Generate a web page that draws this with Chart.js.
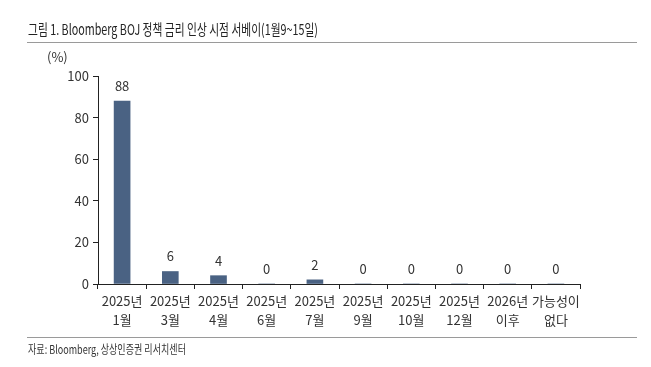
<!DOCTYPE html>
<html>
<head>
<meta charset="utf-8">
<script src="https://cdn.jsdelivr.net/npm/chart.js@4.4.1/dist/chart.umd.min.js"></script>
<style>
  html, body { margin: 0; padding: 0; background: #fff; }
  #wrap { width: 651px; height: 367px; position: relative; }
</style>
</head>
<body>
<div id="wrap"><canvas id="c" width="651" height="367"></canvas></div>
<script>
const categories = [
  ['2025년', '1월'], ['2025년', '3월'], ['2025년', '4월'], ['2025년', '6월'],
  ['2025년', '7월'], ['2025년', '9월'], ['2025년', '10월'], ['2025년', '12월'],
  ['2026년', '이후'], ['가능성이', '없다']
];
const shares = [88, 6, 4, 0, 2, 0, 0, 0, 0, 0];
const yTicks = [0, 20, 40, 60, 80, 100];

const titleText = '그림 1. Bloomberg BOJ 정책 금리 인상 시점 서베이(1월9~15일)';
const sourceText = '자료: Bloomberg, 상상인증권 리서치센터';
const unitText = '(%)';

const korFont = '"Noto Sans CJK KR", "Noto Sans", sans-serif';

// squeeze text horizontally to fit a target width (the original uses a narrow gothic)
function drawSqueezed(ctx, text, x, y, targetW) {
  const w = ctx.measureText(text).width;
  const s = Math.min(1, targetW / w);
  ctx.save();
  ctx.translate(x, y);
  ctx.scale(s, 1);
  ctx.fillText(text, 0, 0);
  ctx.restore();
}

const decor = {
  id: 'decor',
  afterDraw(chart) {
    const ctx = chart.ctx;
    ctx.save();
    ctx.fillStyle = '#222';
    ctx.textBaseline = 'middle';
    ctx.textAlign = 'left';
    ctx.font = '15px ' + korFont;
    drawSqueezed(ctx, titleText, 28, 29, 290);

    ctx.strokeStyle = '#9a9a9a';
    ctx.lineWidth = 1;
    ctx.beginPath();
    ctx.moveTo(27, 42.5); ctx.lineTo(637, 42.5);
    ctx.moveTo(27, 337.5); ctx.lineTo(637, 337.5);
    ctx.stroke();

    ctx.fillStyle = '#333';
    ctx.font = '12px ' + korFont;
    drawSqueezed(ctx, sourceText, 28, 349, 158);

    ctx.font = '13px ' + korFont;
    ctx.fillText(unitText, 47, 57);

    // value labels above bars
    const meta = chart.getDatasetMeta(0);
    ctx.textAlign = 'center';
    ctx.font = '13px ' + korFont;
    meta.data.forEach((bar, i) => {
      ctx.fillText(String(shares[i]), bar.x, bar.y - 15);
    });
    ctx.restore();
  }
};

new Chart(document.getElementById('c'), {
  type: 'bar',
  data: {
    labels: categories,
    datasets: [{
      data: shares,
      backgroundColor: '#4a6283',
      barThickness: 16
    }]
  },
  options: {
    responsive: false,
    animation: false,
    layout: { padding: { left: 0, right: 71, top: 76, bottom: 0 } },
    plugins: { legend: { display: false }, tooltip: { enabled: false } },
    scales: {
      y: {
        min: 0,
        max: 100,
        afterFit(scale) { scale.width = 98; },
        afterBuildTicks(scale) { scale.ticks = yTicks.map(v => ({ value: v })); },
        border: { color: '#222', width: 1 },
        grid: { drawOnChartArea: false, tickLength: 5, color: '#222' },
        ticks: { color: '#333', font: { size: 13, family: korFont }, padding: 4 }
      },
      x: {
        afterFit(scale) { scale.height = 83; },
        border: { color: '#222', width: 1 },
        grid: { offset: true, drawOnChartArea: false, tickLength: 5, color: '#222' },
        ticks: { color: '#333', font: { size: 13, family: korFont, lineHeight: 1.5 }, padding: 2, maxRotation: 0, autoSkip: false }
      }
    }
  },
  plugins: [decor]
});
</script>
</body>
</html>
